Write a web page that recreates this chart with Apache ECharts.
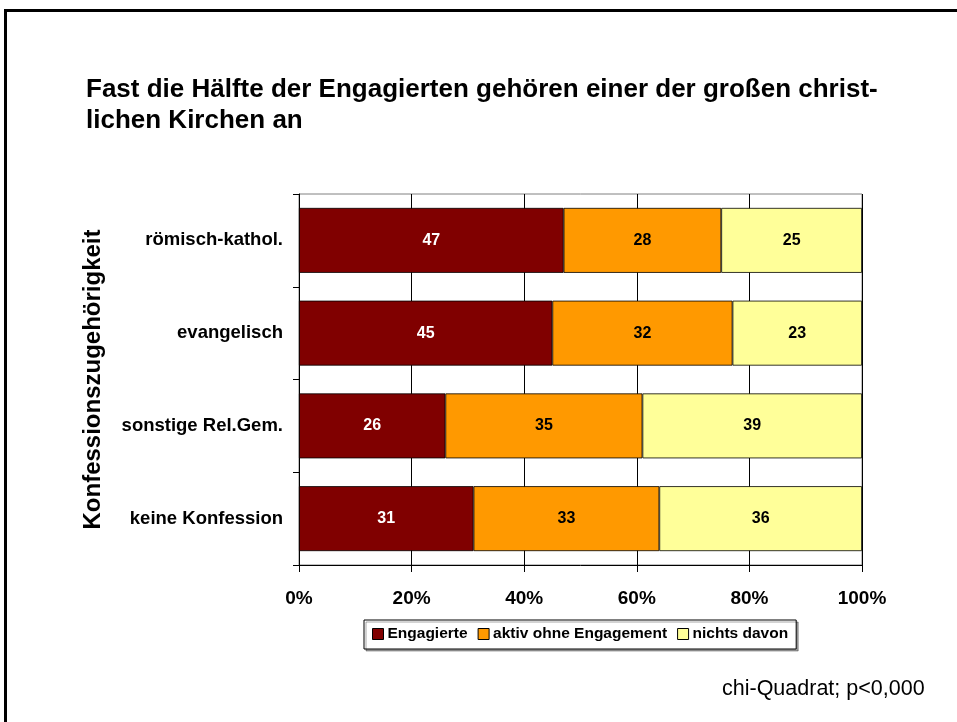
<!DOCTYPE html>
<html>
<head>
<meta charset="utf-8">
<script src="https://cdn.jsdelivr.net/npm/echarts@6/dist/echarts.min.js"></script>
<style>
  html, body { margin: 0; padding: 0; background: #fff; }
  #chart { width: 957px; height: 722px; }
</style>
</head>
<body>
<div id="chart"></div>
<script>
// Denominations (top to bottom)
const categories = ['römisch-kathol.', 'evangelisch', 'sonstige Rel.Gem.', 'keine Konfession'];
// Share in percent per group
const engagierte = [47, 45, 26, 31];
const aktivOhneEngagement = [28, 32, 35, 33];
const nichtsDavon = [25, 23, 39, 36];
const seriesNames = ['Engagierte', 'aktiv ohne Engagement', 'nichts davon'];
const xTicks = [0, 20, 40, 60, 80, 100];

const FONT = '"Liberation Sans", Arial, sans-serif';
const colors = ['#800000', '#FF9900', '#FFFF99'];
const labelColors = ['#fff', '#000', '#000'];

const chart = echarts.init(document.getElementById('chart'));

function barSeries(name, data, idx) {
  return {
    name: name,
    type: 'bar',
    stack: 'total',
    data: data,
    barCategoryGap: '30%',
    itemStyle: { color: colors[idx], borderColor: '#000', borderWidth: 0.8 },
    label: {
      show: true,
      position: 'inside',
      color: labelColors[idx],
      fontFamily: FONT,
      fontWeight: 'bold',
      fontSize: 16
    },
    emphasis: { disabled: true },
    animation: false
  };
}

chart.setOption({
  backgroundColor: '#fff',
  animation: false,
  title: {
    text: 'Fast die Hälfte der Engagierten gehören einer der großen christ-\nlichen Kirchen an',
    left: 81,
    top: 69,
    textStyle: {
      fontFamily: FONT,
      fontWeight: 'bold',
      fontSize: 26,
      lineHeight: 31,
      color: '#000'
    }
  },
  legend: {
    data: seriesNames,
    left: 364,
    top: 620,
    icon: 'rect',
    itemWidth: 11,
    itemHeight: 11,
    itemGap: 10,
    padding: [6, 8, 7, 8],
    borderColor: '#000',
    borderWidth: 1,
    backgroundColor: '#fff',
    shadowColor: 'rgba(0,0,0,0.35)',
    shadowOffsetX: 2,
    shadowOffsetY: 2,
    itemStyle: { borderColor: '#000', borderWidth: 1 },
    textStyle: {
      fontFamily: FONT,
      fontWeight: 'bold',
      fontSize: 15.5,
      color: '#000',
      padding: [0, 0, 0, -1]
    },
    selectedMode: false
  },
  grid: {
    left: 299,
    right: 957 - 862,
    top: 194,
    bottom: 722 - 565,
    show: true,
    borderColor: '#808080',
    borderWidth: 1,
    containLabel: false
  },
  xAxis: {
    type: 'value',
    min: xTicks[0],
    max: xTicks[xTicks.length - 1],
    interval: 20,
    axisLine: { show: true, onZero: false, lineStyle: { color: '#000', width: 1 } },
    axisTick: { show: true, length: 7, lineStyle: { color: '#000' } },
    splitLine: { show: true, lineStyle: { color: '#000', width: 1 } },
    axisLabel: {
      formatter: v => v + '%',
      margin: 24,
      fontFamily: FONT,
      fontWeight: 'bold',
      fontSize: 19,
      color: '#000'
    }
  },
  yAxis: {
    type: 'category',
    data: categories,
    inverse: true,
    name: 'Konfessionszugehörigkeit',
    nameLocation: 'middle',
    nameGap: 194,
    nameTextStyle: {
      fontFamily: FONT,
      fontWeight: 'bold',
      fontSize: 24,
      color: '#000'
    },
    axisLine: { show: true, lineStyle: { color: '#000', width: 1 } },
    axisTick: { show: true, length: 6, lineStyle: { color: '#000' } },
    splitLine: { show: false },
    axisLabel: {
      margin: 16,
      fontFamily: FONT,
      fontWeight: 'bold',
      fontSize: 18.5,
      color: '#000'
    }
  },
  series: [
    barSeries(seriesNames[0], engagierte, 0),
    barSeries(seriesNames[1], aktivOhneEngagement, 1),
    barSeries(seriesNames[2], nichtsDavon, 2)
  ],
  graphic: [
    {
      type: 'rect',
      shape: { x: 5.5, y: 10.5, width: 1000, height: 800 },
      style: { fill: 'none', stroke: '#000', lineWidth: 3 },
      silent: true
    },
    {
      type: 'text',
      left: 722,
      top: 678,
      style: {
        text: 'chi-Quadrat; p<0,000',
        fontFamily: FONT,
        fontSize: 21.5,
        fill: '#000'
      },
      silent: true
    }
  ]
});
</script>
</body>
</html>
